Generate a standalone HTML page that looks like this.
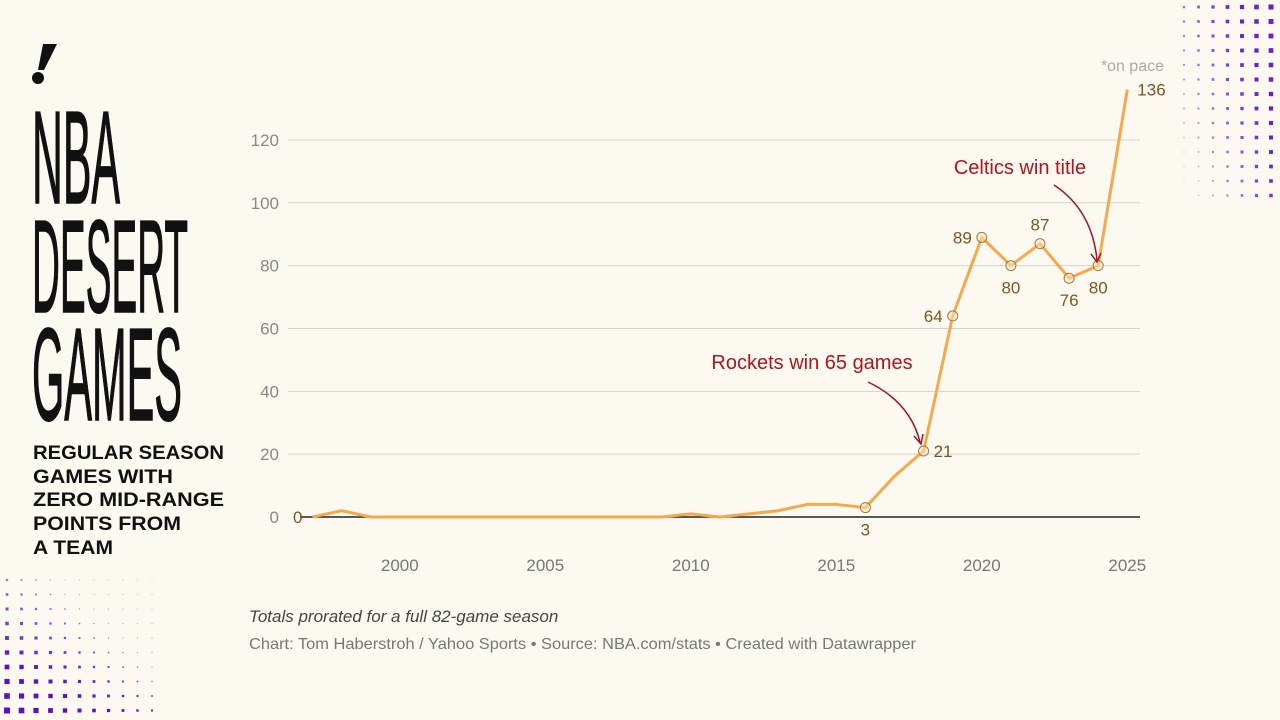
<!DOCTYPE html>
<html><head><meta charset="utf-8">
<style>
html,body{margin:0;padding:0;background:#fcf9f1;}
body{width:1280px;height:720px;position:relative;overflow:hidden;font-family:"Liberation Sans",sans-serif;}
svg{position:absolute;left:0;top:0;}
</style></head>
<body>
<svg id="chart" width="1280" height="720" viewBox="0 0 1280 720">
  <g id="dots"></g>
  <g>
    <polygon points="43,44 57,44 44,70 38,70" fill="#111"/>
    <circle cx="38" cy="78" r="6" fill="#111"/>
  </g>
  <g font-family="Liberation Sans, sans-serif" font-weight="normal" fill="#111" stroke="#111" stroke-width="1.5">
    <text x="32" y="203" font-size="132" textLength="88" lengthAdjust="spacingAndGlyphs">NBA</text>
    <text x="32" y="312" font-size="132" textLength="156" lengthAdjust="spacingAndGlyphs">DESERT</text>
    <text x="32" y="420" font-size="132" textLength="150" lengthAdjust="spacingAndGlyphs">GAMES</text>
  </g>
  <g font-family="Liberation Sans, sans-serif" font-weight="bold" font-size="19" fill="#111">
    <text x="33" y="459" textLength="191" lengthAdjust="spacingAndGlyphs">REGULAR SEASON</text>
    <text x="33" y="483" textLength="140" lengthAdjust="spacingAndGlyphs">GAMES WITH</text>
    <text x="33" y="506" textLength="191" lengthAdjust="spacingAndGlyphs">ZERO MID-RANGE</text>
    <text x="33" y="530" textLength="148" lengthAdjust="spacingAndGlyphs">POINTS FROM</text>
    <text x="33" y="554" textLength="80" lengthAdjust="spacingAndGlyphs">A TEAM</text>
  </g>
  <g id="grid"></g>
  <g id="yticks"></g>
  <g id="xticks"></g>
  <g id="series"></g>
  <g fill="#b3141c" font-size="20">
    <text x="812" y="369" text-anchor="middle">Rockets win 65 games</text>
    <path d="M868,382 Q910,402 920,442" fill="none" stroke="#a0142a" stroke-width="1.5"/>
    <path d="M914,436 L921,444 L923,434" fill="none" stroke="#a0142a" stroke-width="1.5"/>
    <text x="1020" y="174" text-anchor="middle">Celtics win title</text>
    <path d="M1054,185 Q1092,210 1097,260" fill="none" stroke="#a0142a" stroke-width="1.5"/>
    <path d="M1091,254 L1097,262 L1101,253" fill="none" stroke="#a0142a" stroke-width="1.5"/>
  </g>
  <text x="1164" y="71" text-anchor="end" font-size="16" fill="#aaa">*on pace</text>
  <text x="249" y="622" font-size="17" font-style="italic" fill="#444">Totals prorated for a full 82-game season</text>
  <text x="249" y="649" font-size="16" fill="#777" textLength="667" lengthAdjust="spacingAndGlyphs">Chart: Tom Haberstroh / Yahoo Sports • Source: NBA.com/stats • Created with Datawrapper</text>
</svg>
<script>
const years=[1997,1998,1999,2000,2001,2002,2003,2004,2005,2006,2007,2008,2009,2010,2011,2012,2013,2014,2015,2016,2017,2018,2019,2020,2021,2022,2023,2024,2025];
const values=[0,2,0,0,0,0,0,0,0,0,0,0,0,1,0,1,2,4,4,3,13,21,64,89,80,87,76,80,136];
const yTicks=[0,20,40,60,80,100,120];
const xTicks=[2000,2005,2010,2015,2020,2025];
const markedYears=[2016,2018,2019,2020,2021,2022,2023,2024];
const labels=[{y:1997,t:"0",pos:"left"},{y:2016,t:"3",pos:"below"},{y:2018,t:"21",pos:"right"},{y:2019,t:"64",pos:"left"},{y:2020,t:"89",pos:"left"},{y:2021,t:"80",pos:"below"},{y:2022,t:"87",pos:"above"},{y:2023,t:"76",pos:"below"},{y:2024,t:"80",pos:"below"},{y:2025,t:"136",pos:"right"}];

const NS="http://www.w3.org/2000/svg";
const X=yr=>312.5+(yr-1997)*29.1;
const Y=v=>517-v*3.142;
function mk(tag,attrs,parent){const e=document.createElementNS(NS,tag);for(const k in attrs)e.setAttribute(k,attrs[k]);parent.appendChild(e);return e;}

const dots=document.getElementById('dots');
for(let c=0;c<7;c++)for(let r=0;r<14;r++){
  const s=0.8+c*0.45+(13-r)*0.12;
  const d=mk('rect',{x:1184+c*14.5-s/2,y:7+r*14.5-s/2,width:s,height:s,fill:'#6a1fd0',opacity:Math.min(1,0.25+c*0.11+(13-r)*0.03)},dots);
  
  
}
for(let c=0;c<11;c++)for(let r=0;r<10;r++){
  const s=Math.max(0.8,6-c*0.4-(9-r)*0.42);
  const d=mk('rect',{x:7+c*14.5-s/2,y:580+r*14.5-s/2,width:s,height:s,fill:'#5a10c8',opacity:Math.min(1,0.3+r*0.07+(10-c)*0.03)},dots);
  
  
}

const grid=document.getElementById('grid'), yt=document.getElementById('yticks'), xt=document.getElementById('xticks');
yTicks.forEach(v=>{
  if(v>0){const l=mk('line',{x1:288,x2:1140,y1:Y(v),y2:Y(v),stroke:'#d6d3cc','stroke-width':1},grid);
  
  }
  const t=mk('text',{x:279,y:Y(v)+6,'text-anchor':'end','font-size':17,fill:'#888'},yt);t.textContent=v;
  
  
});
const base=mk('line',{x1:300,x2:1140,y1:Y(0),y2:Y(0),stroke:'#222','stroke-width':1.5},grid);


xTicks.forEach(v=>{
  const t=mk('text',{x:X(v),y:571,'text-anchor':'middle','font-size':17,fill:'#777'},xt);t.textContent=v;
  
  
});

const ser=document.getElementById('series');
const p=mk('polyline',{points:years.map((y,i)=>X(y)+','+Y(values[i])).join(' '),fill:'none',stroke:'#f5a94a','stroke-width':3,'stroke-linejoin':'round'},ser);


markedYears.forEach(yr=>{
  const v=values[years.indexOf(yr)];
  const c=mk('circle',{cx:X(yr),cy:Y(v),r:5,fill:'#fbe3c0','fill-opacity':0.5,stroke:'#a07a40','stroke-width':1},ser);
  
  
});
labels.forEach(o=>{
  const v=values[years.indexOf(o.y)];
  let x=X(o.y),y=Y(v),a='middle';
  if(o.pos==='left'){x-=10;y+=6;a='end';}
  else if(o.pos==='right'){x+=10;y+=6;a='start';}
  else if(o.pos==='below'){y+=28;}
  else {y-=13;}
  const t=mk('text',{x:x,y:y,'text-anchor':a,'font-size':17,fill:'#7a5720'},ser);t.textContent=o.t;
  
  
});
</script>
</body></html>
